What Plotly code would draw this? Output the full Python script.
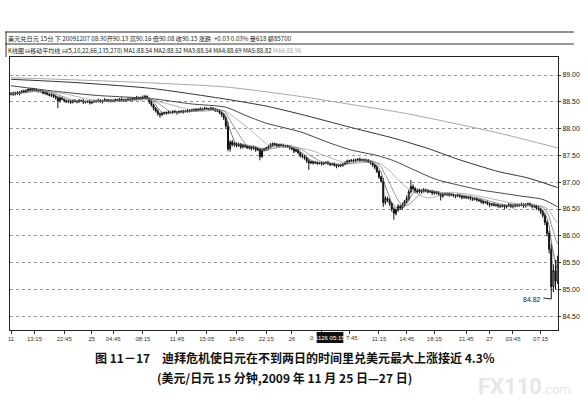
import plotly.graph_objects as go
import pandas as pd

# ---------------- data ----------------
close = [
    88.66, 88.64, 88.67, 88.65, 88.68, 88.70, 88.69, 88.71, 88.73, 88.72,
    88.74, 88.72, 88.70, 88.71, 88.69, 88.66, 88.67, 88.64, 88.62, 88.63,
    88.60, 88.58, 88.52, 88.57, 88.55, 88.52, 88.50, 88.51, 88.49, 88.52,
    88.51, 88.50, 88.53, 88.52, 88.49, 88.50, 88.51, 88.48, 88.50, 88.52,
    88.51, 88.53, 88.50, 88.52, 88.54, 88.52, 88.53, 88.51, 88.52, 88.54,
    88.53, 88.55, 88.52, 88.54, 88.53, 88.55, 88.54, 88.56, 88.55, 88.57,
    88.56, 88.58, 88.57, 88.60, 88.56, 88.50, 88.44, 88.38, 88.33, 88.28,
    88.26, 88.28, 88.30, 88.29, 88.31, 88.30, 88.32, 88.31, 88.30, 88.32,
    88.31, 88.33, 88.32, 88.34, 88.33, 88.35, 88.34, 88.36, 88.35, 88.37,
    88.36, 88.38, 88.37, 88.36, 88.38, 88.36, 88.34, 88.33, 88.30, 88.26,
    88.20, 88.05, 87.62, 87.75, 87.70, 87.72, 87.68, 87.71, 87.66, 87.69,
    87.67, 87.64, 87.66, 87.63, 87.65, 87.60, 87.62, 87.48, 87.60, 87.62,
    87.64, 87.66, 87.70, 87.72, 87.70, 87.68, 87.70, 87.69, 87.67, 87.68,
    87.66, 87.64, 87.62, 87.58, 87.60, 87.55, 87.50, 87.48, 87.45, 87.40,
    87.36, 87.38, 87.36, 87.37, 87.35, 87.36, 87.34, 87.36, 87.37, 87.35,
    87.33, 87.34, 87.32, 87.30, 87.32, 87.31, 87.34, 87.37, 87.39, 87.40,
    87.41, 87.40, 87.42, 87.43, 87.41, 87.42, 87.40, 87.41, 87.38, 87.36,
    87.32, 87.28, 87.20, 87.10, 87.02, 86.62, 86.70, 86.66, 86.60, 86.50,
    86.42, 86.48, 86.55, 86.52, 86.58, 86.64, 86.70, 86.82, 86.92, 86.88,
    86.84, 86.82, 86.85, 86.83, 86.86, 86.84, 86.82, 86.83, 86.80, 86.82,
    86.80, 86.78, 86.74, 86.78, 86.77, 86.79, 86.76, 86.77, 86.75, 86.74,
    86.76, 86.74, 86.72, 86.73, 86.71, 86.72, 86.70, 86.68, 86.69, 86.67,
    86.66, 86.64, 86.62, 86.63, 86.60, 86.58, 86.59, 86.57, 86.58, 86.56,
    86.55, 86.57, 86.54, 86.56, 86.58, 86.55, 86.57, 86.56, 86.58, 86.57,
    86.59, 86.56, 86.58, 86.60, 86.57, 86.55, 86.56, 86.52, 86.50, 86.45,
    86.38, 86.25, 86.05, 85.75, 85.05, 85.35, 85.15, 85.55,
]
first_open = 88.64

# upper / lower shadow lengths, in 0.01 yen
wick_up = [
    2, 3, 2, 3, 2, 1, 3, 2, 2, 3,   2, 2, 3, 1, 2, 3, 2, 2, 1, 3,
    2, 3, 2, 3, 2, 1, 2, 3, 2, 2,   3, 2, 2, 1, 3, 2, 2, 3, 2, 2,
    2, 3, 2, 2, 3, 1, 2, 2, 3, 2,   2, 2, 3, 2, 2, 3, 2, 2, 3, 4,
    3, 2, 4, 3, 2, 2, 3, 2, 2, 3,   2, 3, 2, 2, 3, 2, 2, 3, 2, 2,
    3, 2, 2, 3, 2, 2, 3, 2, 2, 3,   2, 3, 2, 2, 3, 2, 2, 3, 2, 2,
    3, 2, 8, 3, 4, 3, 2, 3, 2, 3,   2, 3, 2, 2, 3, 2, 3, 2, 4, 2,
    2, 3, 3, 2, 2, 3, 2, 2, 3, 2,   2, 3, 2, 2, 3, 2, 2, 3, 2, 2,
    3, 2, 2, 3, 2, 2, 3, 2, 2, 3,   2, 2, 3, 2, 2, 3, 2, 2, 3, 2,
    2, 3, 2, 2, 3, 2, 2, 3, 2, 2,   3, 2, 4, 3, 2, 6, 4, 3, 4, 3,
    4, 3, 4, 3, 4, 3, 5, 4, 12, 4,  3, 4, 3, 2, 3, 2, 3, 2, 3, 2,
    2, 3, 2, 2, 3, 2, 2, 3, 2, 2,   3, 2, 2, 3, 2, 2, 3, 2, 2, 3,
    2, 3, 2, 2, 3, 2, 2, 3, 2, 2,   2, 3, 2, 2, 3, 2, 2, 4, 2, 2,
    3, 2, 3, 2, 2, 3, 2, 2, 3, 2,   3, 4, 4, 5, 10, 12, 20, 8,
]
wick_dn = [
    2, 3, 2, 2, 3, 2, 2, 3, 2, 2,   3, 2, 2, 3, 2, 2, 3, 2, 2, 3,
    3, 4, 14, 3, 2, 3, 2, 2, 3, 2,  2, 3, 2, 2, 3, 2, 2, 3, 2, 2,
    3, 2, 2, 3, 2, 2, 3, 2, 2, 3,   2, 3, 2, 2, 3, 2, 2, 3, 2, 2,
    2, 3, 2, 2, 3, 4, 3, 4, 3, 4,   6, 3, 2, 3, 2, 2, 3, 2, 4, 2,
    2, 3, 2, 2, 3, 2, 2, 3, 2, 2,   3, 2, 2, 3, 2, 2, 3, 2, 3, 4,
    4, 6, 4, 5, 3, 4, 3, 2, 4, 3,   3, 2, 3, 4, 2, 3, 2, 7, 3, 2,
    3, 2, 2, 3, 2, 2, 3, 2, 2, 3,   2, 3, 2, 4, 2, 3, 4, 3, 3, 4,
    13, 2, 3, 2, 3, 2, 3, 2, 2, 3,  3, 2, 3, 4, 2, 3, 2, 2, 3, 2,
    2, 3, 2, 2, 3, 2, 2, 3, 2, 3,   3, 4, 3, 4, 3, 8, 4, 3, 4, 5,
    12, 4, 3, 4, 3, 4, 3, 4, 3, 4,  4, 3, 3, 4, 2, 3, 3, 2, 4, 3,
    3, 3, 8, 3, 2, 3, 3, 2, 3, 4,   2, 3, 4, 3, 2, 3, 4, 3, 2, 3,
    3, 4, 3, 2, 3, 4, 3, 2, 3, 4,   3, 2, 4, 3, 2, 3, 4, 3, 2, 3,
    2, 4, 3, 2, 3, 4, 3, 4, 3, 4,   4, 5, 6, 8, 23, 10, 15, 5,
]

# long moving averages (bar index -> value)
ma4_idx = [0, 20, 40, 66, 85, 101, 110, 120, 136, 150, 160, 172, 180, 190, 200, 210, 220, 230, 240, 250, 257]
ma4_val = [88.80, 88.70, 88.62, 88.56, 88.46, 88.40, 88.25, 88.10, 87.94, 87.73, 87.60, 87.50, 87.40,
           87.22, 87.05, 86.95, 86.86, 86.80, 86.74, 86.68, 86.54]
ma5_idx = [0, 30, 66, 101, 120, 136, 160, 180, 196, 210, 229, 243, 257]
ma5_val = [88.92, 88.86, 88.75, 88.55, 88.42, 88.27, 88.02, 87.82, 87.63, 87.43, 87.20, 87.08, 86.90]
ma6_idx = [0, 50, 100, 136, 160, 186, 229, 257]
ma6_val = [88.95, 88.88, 88.78, 88.60, 88.45, 88.28, 87.92, 87.64]

x_tick_idx = [0, 11, 25, 38, 48, 62, 78, 92, 106, 120, 132, 146, 159, 173, 186, 199, 214, 225, 236, 249]
x_tick_txt = ["11", "13:15", "22:45", "25", "04:45", "08:15", "11:45", "15:05", "18:45", "22:15",
              "26", "", "", "11:15", "14:45", "18:15", "21:45", "27", "03:45", "07:15"]
hidden_tick_left = "0"
hidden_tick_right = "7:45"
cursor_text = "1126 05:15"
y_tick_val = [84.5, 85.0, 85.5, 86.0, 86.5, 87.0, 87.5, 88.0, 88.5, 89.0]

low_label = "84.82"

# ---------------- derived ----------------
n = len(close)
xs = list(range(n))
opens = [first_open] + close[:-1]
highs = [max(o, c) + u / 100 for o, c, u in zip(opens, close, wick_up)]
lows = [min(o, c) - d / 100 for o, c, d in zip(opens, close, wick_dn)]
s = pd.Series(close)
ma1 = s.rolling(5, min_periods=1).mean()
ma2 = s.rolling(10, min_periods=1).mean()
ma3 = s.rolling(22, min_periods=1).mean()

fig = go.Figure()
fig.add_trace(go.Candlestick(
    x=xs, open=opens, high=highs, low=lows, close=close,
    increasing=dict(line=dict(color="#111", width=1), fillcolor="white"),
    decreasing=dict(line=dict(color="#111", width=1), fillcolor="#111"),
    whiskerwidth=0, hoverinfo="skip", showlegend=False,
))
for xv, yv, col, w in [
    (ma6_idx, ma6_val, "#a8a8a8", 1.0),
    (ma5_idx, ma5_val, "#333333", 1.0),
    (ma4_idx, ma4_val, "#444444", 1.0),
    (xs, ma3, "#9a9a9a", 0.8),
    (xs, ma2, "#777777", 0.8),
    (xs, ma1, "#555555", 0.8),
]:
    fig.add_trace(go.Scatter(x=xv, y=yv, mode="lines", line=dict(color=col, width=w, shape="spline", smoothing=0.6),
                             hoverinfo="skip", showlegend=False))

# plot area in px: x 8..562, y 57..330
def px(x):
    return (x - 8) / 554.0

def py(y):
    return (330 - y) / 273.0

shapes = [
    dict(type="line", xref="paper", yref="paper", x0=px(3), x1=px(578), y0=py(32), y1=py(32),
         line=dict(color="#222", width=1)),
    dict(type="line", xref="paper", yref="paper", x0=px(3), x1=px(578), y0=py(44), y1=py(44),
         line=dict(color="#333", width=1)),
    dict(type="line", xref="paper", yref="paper", x0=px(4), x1=px(4), y0=py(32), y1=py(57),
         line=dict(color="#333", width=1)),
    dict(type="rect", xref="paper", yref="paper", x0=px(318), x1=px(345), y0=py(343), y1=py(332),
         fillcolor="#111", line=dict(width=0)),
    dict(type="line", xref="x", yref="y", x0=250.3, x1=254, y0=84.84, y1=84.82,
         line=dict(color="#222", width=1)),
]

ann = [
    dict(xref="paper", yref="paper", x=px(4), y=py(38), xanchor="left", yanchor="middle", showarrow=False,
         text="美元兑日元 15分 下 20091207 08:30开90.13 高90.16 低90.08 收90.15 涨跌  +0.03 0.03% 量618 额85700",
         font=dict(family="Noto Sans CJK SC", size=6.2, color="#222")),
    dict(xref="paper", yref="paper", x=px(4), y=py(50), xanchor="left", yanchor="middle", showarrow=False,
         text="K线图 ⊟移动平均线 ⊟(5,10,22,66,135,270) MA1:88.54 MA2:88.52 MA3:88.54 MA4:88.69 MA5:88.82 "
              "<span style='color:#aaa'>MA6:88.96</span>",
         font=dict(family="Noto Sans CJK SC", size=6, color="#222")),
    dict(xref="paper", yref="paper", x=px(331.5), y=py(337.5), xanchor="center", yanchor="middle", showarrow=False,
         text=cursor_text, font=dict(family="Liberation Sans", size=6, color="white")),
    dict(xref="paper", yref="paper", x=px(317), y=py(337.5), xanchor="right", yanchor="middle", showarrow=False,
         text=hidden_tick_left, font=dict(family="Liberation Sans", size=6, color="#333")),
    dict(xref="paper", yref="paper", x=px(346), y=py(337.5), xanchor="left", yanchor="middle", showarrow=False,
         text=hidden_tick_right, font=dict(family="Liberation Sans", size=6, color="#333")),
    dict(xref="x", yref="y", x=250, y=84.82, xanchor="right", yanchor="middle", showarrow=False,
         text=low_label, font=dict(family="Liberation Sans", size=7, color="#222")),
    dict(xref="paper", yref="paper", x=px(296), y=py(357), xanchor="center", yanchor="middle", showarrow=False,
         text="<b>图 11－17　迪拜危机使日元在不到两日的时间里兑美元最大上涨接近 4.3％</b>",
         font=dict(family="Noto Sans CJK SC", size=12, color="#111")),
    dict(xref="paper", yref="paper", x=px(286), y=py(377), xanchor="center", yanchor="middle", showarrow=False,
         text="<b>(美元/日元 15 分钟,2009 年 11 月 25 日—27 日)</b>",
         font=dict(family="Noto Sans CJK SC", size=12, color="#111")),
    dict(xref="paper", yref="paper", x=px(577), y=py(386), xanchor="right", yanchor="middle", showarrow=False,
         text="<b>FX110</b><span style='font-size:13px'>.com</span>",
         font=dict(family="Roboto", size=22, color="#e6e6e6")),
]

fig.update_layout(
    width=588, height=409,
    margin=dict(l=8, r=26, t=57, b=79),
    paper_bgcolor="white", plot_bgcolor="white",
    shapes=shapes, annotations=ann,
    xaxis=dict(range=[-0.5, 257.17], tickmode="array", tickvals=x_tick_idx, ticktext=x_tick_txt,
               showgrid=False, zeroline=False, showline=True, linecolor="#222", linewidth=1, mirror=True,
               ticks="outside", ticklen=3, tickcolor="#333",
               tickfont=dict(family="Liberation Sans", size=6, color="#333"),
               rangeslider=dict(visible=False), fixedrange=True),
    yaxis=dict(range=[84.243, 89.336], side="right", tickmode="array", tickvals=y_tick_val,
               tickformat=".2f", showgrid=True, gridcolor="#9a9a9a", griddash="dot", gridwidth=1,
               zeroline=False, showline=True, linecolor="#222", linewidth=1, mirror=True,
               ticks="outside", ticklen=2, tickcolor="#333",
               tickfont=dict(family="Liberation Sans", size=7, color="#222"), fixedrange=True),
)

fig.write_html("out.html", config={"displayModeBar": False},
               post_script="document.body.style.margin='0';document.body.style.overflow='hidden';")
